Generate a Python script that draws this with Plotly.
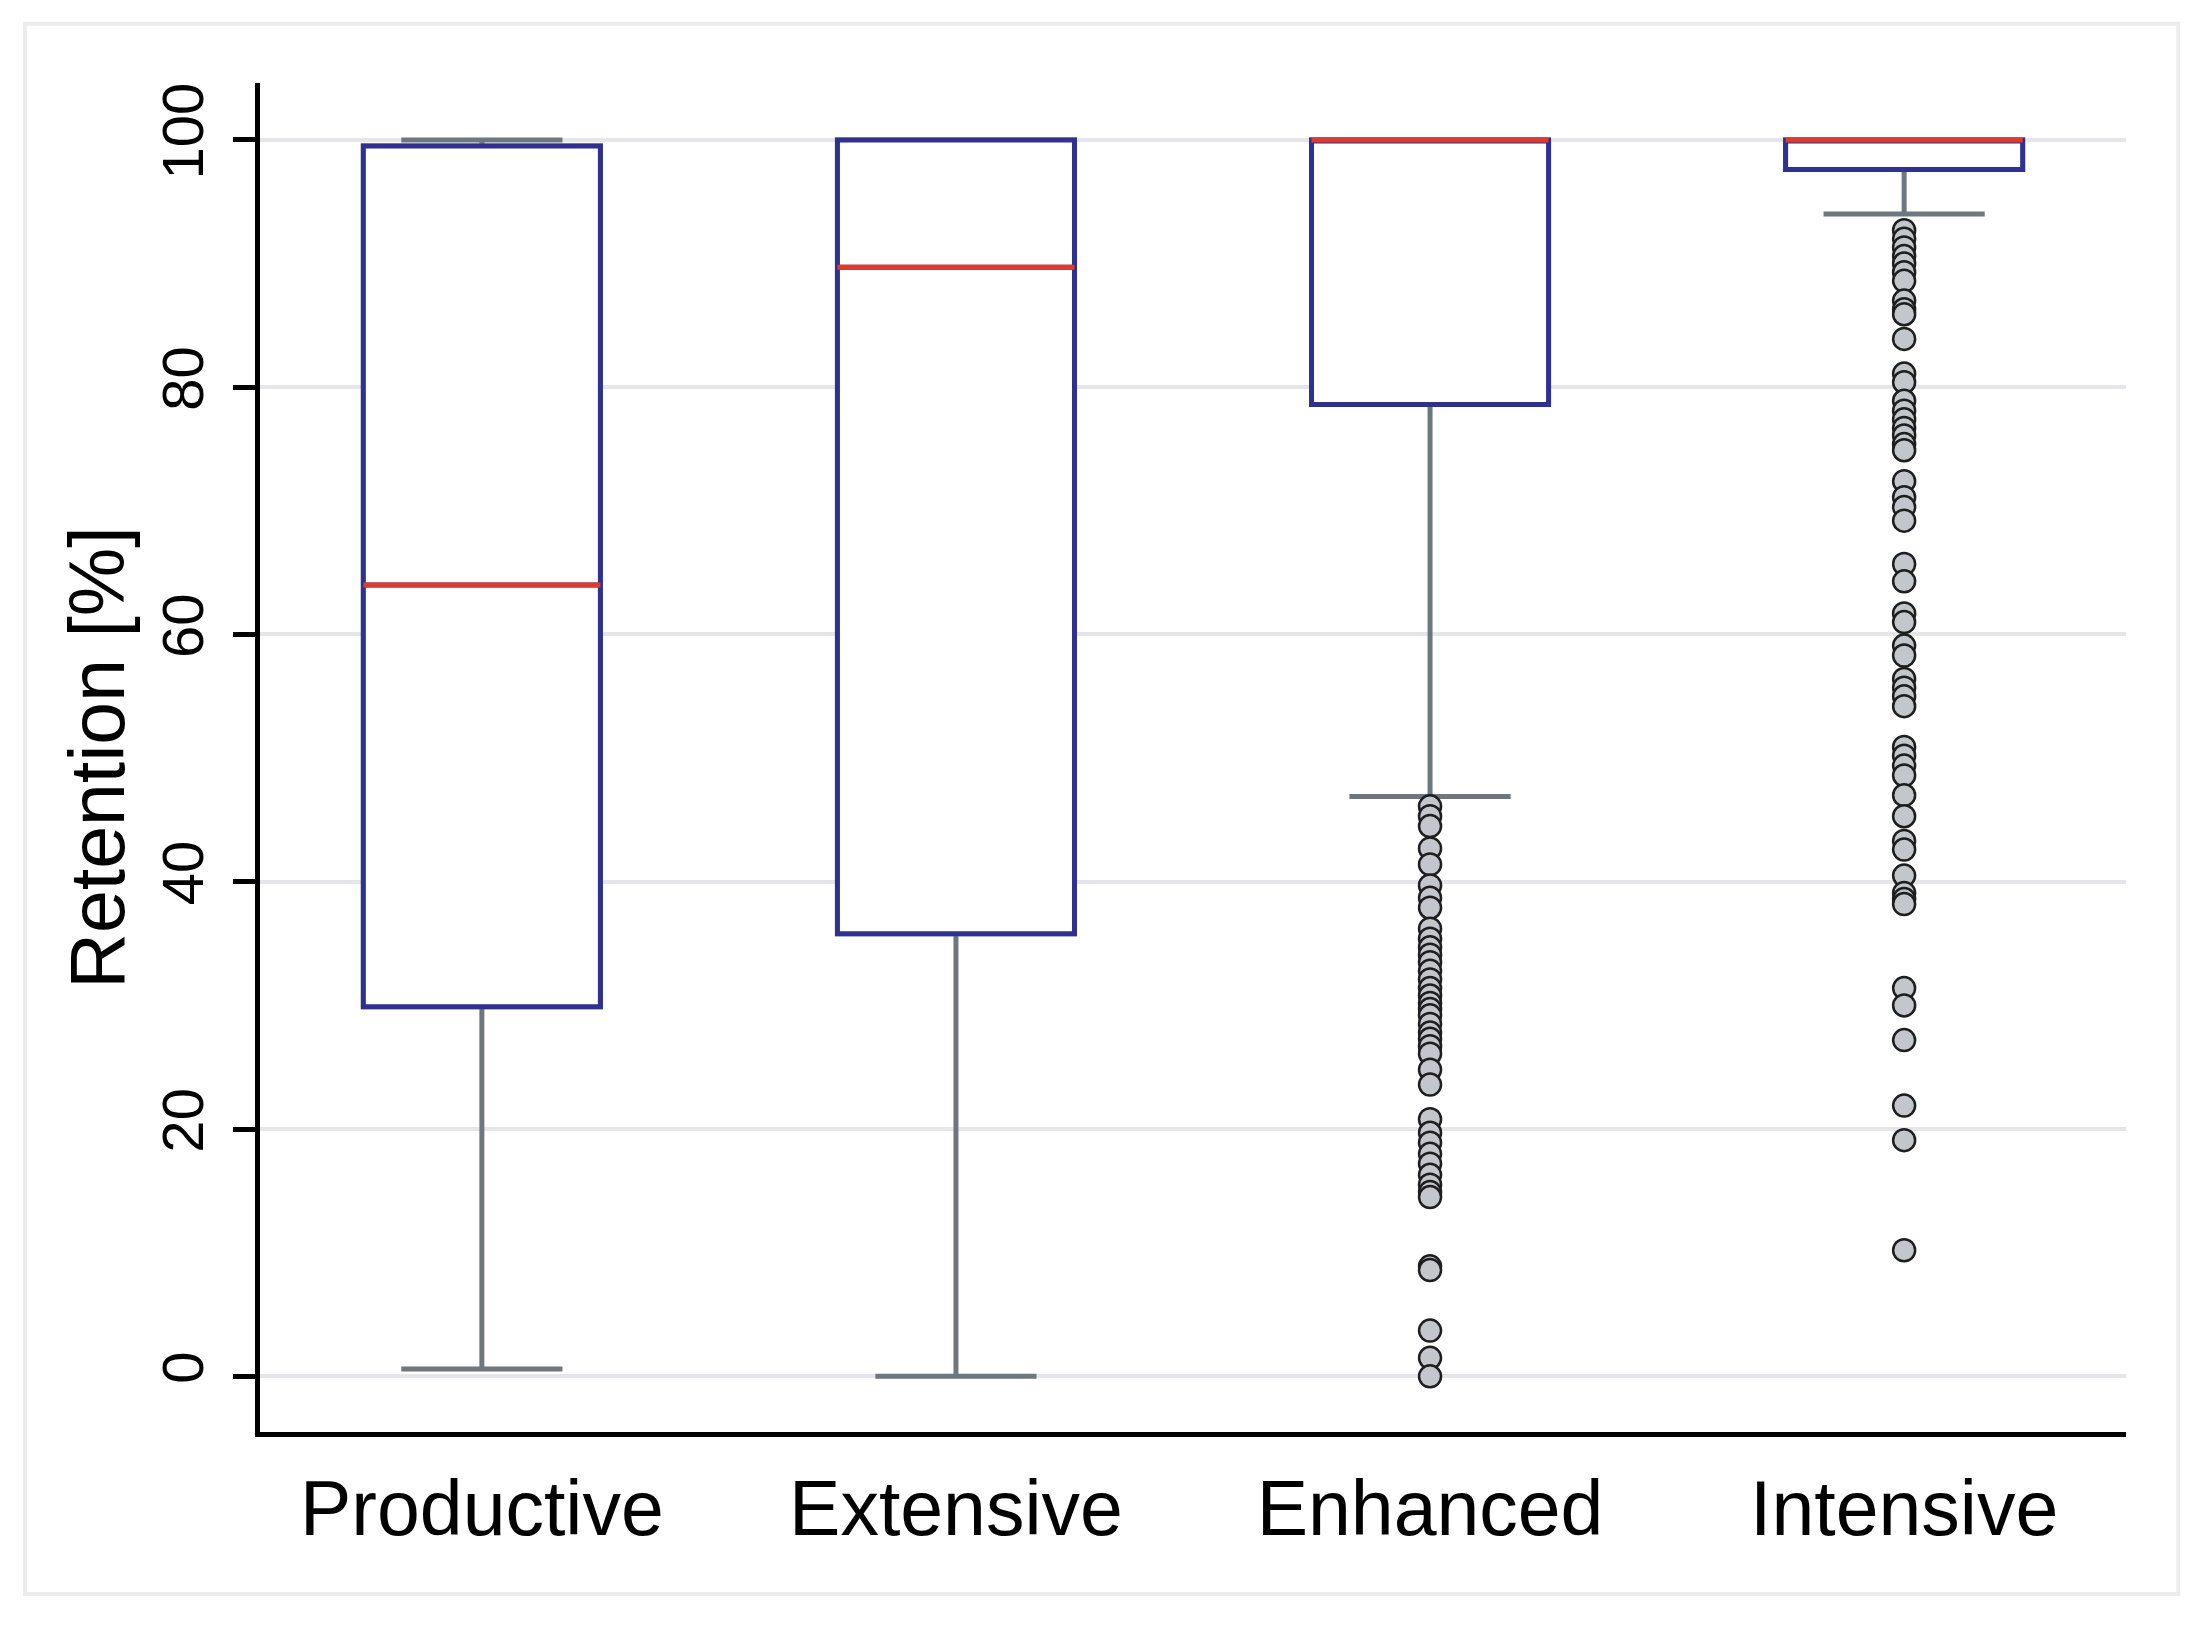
import plotly.graph_objects as go

categories = ["Productive", "Extensive", "Enhanced", "Intensive"]
positions = [0, 1, 2, 3]
q1 = [29.9, 35.8, 78.6, 97.6]
median = [64.0, 89.7, 100.0, 100.0]
q3 = [99.5, 100.0, 100.0, 100.0]
lower_fence = [0.6, 0.0, 46.9, 94.0]
upper_fence = [100.0, 100.0, 100.0, 100.0]

enhanced_outliers = [46.1, 45.3, 44.5, 42.7, 41.4, 39.7, 38.7, 37.9, 36.2, 35.4, 34.7,
                     34.1, 33.5, 32.8, 32.1, 31.4, 30.8, 30.2, 29.7, 29.2, 28.5, 27.8,
                     27.3, 26.7, 26.1, 24.8, 23.6, 20.8, 19.7, 18.9, 18.0, 17.2, 16.3,
                     15.5, 14.9, 14.5, 8.9, 8.6, 3.7, 1.5, 0.0]
intensive_outliers = [92.7, 92.0, 91.3, 90.6, 90.0, 89.3, 88.6, 87.0, 86.3, 85.9, 83.9,
                      81.1, 80.4, 78.9, 78.1, 77.4, 76.7, 76.1, 75.4, 74.9, 72.4, 71.1,
                      70.3, 69.2, 65.7, 64.3, 61.7, 61.0, 59.1, 58.3, 56.4, 55.7, 55.0,
                      54.2, 50.9, 50.2, 49.4, 48.6, 47.0, 45.3, 43.3, 42.6, 40.5, 39.1,
                      38.6, 38.2, 31.4, 30.0, 27.2, 21.9, 19.1, 10.2]

y_ticks = [0, 20, 40, 60, 80, 100]

BLUE = "#2e3192"
RED = "#df3a2a"
GRAY = "#6e777f"
FONT = "Liberation Sans, Arial, sans-serif"

fig = go.Figure()

# whiskers (gray)
fig.add_trace(go.Box(
    x=positions, q1=q1, median=median, q3=q3,
    lowerfence=lower_fence, upperfence=upper_fence,
    width=0.5, whiskerwidth=0.68,
    line=dict(color=GRAY, width=5), fillcolor="rgba(0,0,0,0)",
    boxpoints=False, showlegend=False, hoverinfo="skip"))

# boxes (blue, white fill)
fig.add_trace(go.Box(
    x=positions, q1=q1, median=median, q3=q3,
    lowerfence=q1, upperfence=q3,
    width=0.5, whiskerwidth=0,
    line=dict(color=BLUE, width=5), fillcolor="white",
    boxpoints=False, showlegend=False, hoverinfo="skip"))

# medians (red)
fig.add_trace(go.Box(
    x=positions, q1=median, median=median, q3=median,
    lowerfence=median, upperfence=median,
    width=0.5, whiskerwidth=0,
    line=dict(color=RED, width=5), fillcolor="rgba(0,0,0,0)",
    boxpoints=False, showlegend=False, hoverinfo="skip"))

# outliers
out_x = [positions[2]] * len(enhanced_outliers) + [positions[3]] * len(intensive_outliers)
out_y = enhanced_outliers + intensive_outliers
fig.add_trace(go.Scatter(
    x=out_x, y=out_y, mode="markers",
    marker=dict(size=22, color="#c3c6cc", line=dict(color="#1e1e1e", width=2.5)),
    showlegend=False, hoverinfo="skip"))

fig.update_layout(
    width=2200, height=1628,
    margin=dict(l=252, r=82, t=75, b=204),
    paper_bgcolor="white", plot_bgcolor="white",
    boxmode="overlay",
    font=dict(family=FONT, color="black"),
    shapes=[dict(type="rect", xref="paper", yref="paper",
                 x0=-0.126, x1=1.028, y0=-0.120, y1=1.044,
                 line=dict(color="#ececec", width=4), layer="below")],
)

fig.update_xaxes(
    range=[-0.468, 3.468],
    tickvals=positions, ticktext=categories,
    ticks="", showgrid=False, zeroline=False,
    showline=True, linecolor="black", linewidth=5,
    tickfont=dict(size=77, family=FONT, color="black"),
    ticklabelstandoff=6,
)

fig.update_yaxes(
    range=[-4.5, 104.6],
    tickvals=y_ticks,
    ticks="outside", ticklen=22, tickwidth=5, tickcolor="black",
    showline=True, linecolor="black", linewidth=5,
    showgrid=True, gridcolor="#e6e6ea", gridwidth=4,
    zeroline=False,
    tickangle=-90,
    tickfont=dict(size=58, family=FONT, color="black"),
    ticklabelstandoff=7,
    title=dict(text="Retention [%]", font=dict(size=77, family=FONT, color="black"),
               standoff=1),
)

fig.write_html("out.html")
